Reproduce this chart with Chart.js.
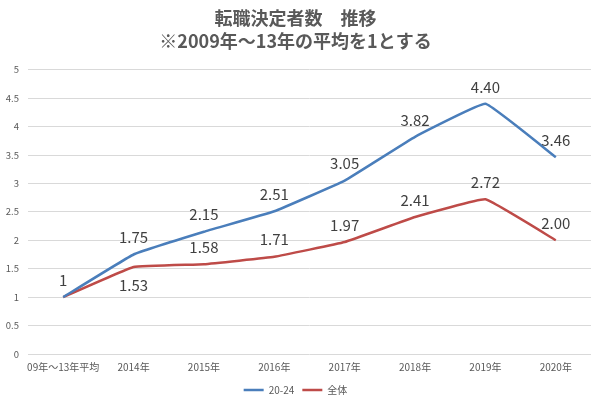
<!DOCTYPE html>
<html>
<head>
<meta charset="utf-8">
<script src="https://cdn.jsdelivr.net/npm/chart.js@4/dist/chart.umd.min.js"></script>
<style>
  html, body { margin: 0; padding: 0; background: #fff; }
  #wrap { width: 598px; height: 402px; }
</style>
</head>
<body>
<div id="wrap"><canvas id="grafico"></canvas></div>
<script>
// datos del grafico
const categorias = ['09年～13年平均', '2014年', '2015年', '2016年', '2017年', '2018年', '2019年', '2020年'];
const valores2024 = [1, 1.75, 2.15, 2.51, 3.05, 3.82, 4.40, 3.46];
const valoresTotal = [1, 1.53, 1.58, 1.71, 1.97, 2.41, 2.72, 2.00];
const ticksY = [0, 0.5, 1, 1.5, 2, 2.5, 3, 3.5, 4, 4.5, 5];

const fuente = '"Noto Sans CJK JP", "Noto Sans", sans-serif';

// donde va cada etiqueta (arriba, abajo o nada)
const posEtiquetas = [
    ['up', 'up', 'up', 'up', 'up', 'up', 'up', 'up'],
    [null, 'down', 'up', 'up', 'up', 'up', 'up', 'up']
];

//plugin sencillo para dibujar las etiquetas de datos
const etiquetasPlugin = {
    id: 'etiquetas',
    afterDatasetsDraw(chart) {
        const ctx = chart.ctx;
        ctx.save();
        ctx.font = '15px ' + fuente;
        ctx.fillStyle = '#404040';
        ctx.textAlign = 'center';
        ctx.textBaseline = 'middle';
        chart.data.datasets.forEach((ds, d) => {
            const meta = chart.getDatasetMeta(d);
            meta.data.forEach((pt, i) => {
                const pos = posEtiquetas[d][i];
                if (!pos) return;
                const v = ds.data[i];
                const txt = i === 0 ? String(v) : v.toFixed(2);
                const y = pos === 'up' ? pt.y - 17 : pt.y + 18;
                ctx.fillText(txt, pt.x, y);
            });
        });
        ctx.restore();
    }
};

new Chart(document.getElementById('grafico'), {
    type: 'line',
    data: {
        labels: categorias,
        datasets: [{
            label: '20-24',
            data: valores2024,
            borderColor: '#4A7EBB',
            backgroundColor: '#4A7EBB',
            borderWidth: 2.5,
            pointRadius: 0,
            tension: 0.08
        }, {
            label: '全体',
            data: valoresTotal,
            borderColor: '#BE4B48',
            backgroundColor: '#BE4B48',
            borderWidth: 2.5,
            pointRadius: 0,
            tension: 0.08
        }]
    },
    options: {
        responsive: true,
        maintainAspectRatio: false,
        animation: false,
        layout: { padding: { left: 0, right: 7, top: 0, bottom: -3 } },
        plugins: {
            title: {
                display: true,
                text: ['転職決定者数　推移', '※2009年～13年の平均を1とする'],
                color: '#595959',
                font: { family: fuente, size: 18, weight: 'bold', lineHeight: 1.27 },
                padding: { top: 7, bottom: 17 }
            },
            legend: {
                position: 'bottom',
                labels: {
                    color: '#595959',
                    font: { family: fuente, size: 10 },
                    usePointStyle: true,
                    pointStyle: 'line',
                    pointStyleWidth: 20,
                    boxWidth: 20,
                    boxHeight: 10,
                    padding: 8
                }
            },
            tooltip: { enabled: false }
        },
        scales: {
            x: {
                offset: true,
                grid: { display: false, drawTicks: false },
                border: { display: false },
                afterFit(scale) {
                    scale.height = 23;
                },
                ticks: {
                    color: '#595959',
                    font: { family: fuente, size: 10 },
                    padding: 7,
                    maxRotation: 0,
                    autoSkip: false
                }
            },
            y: {
                min: 0,
                max: 5,
                afterBuildTicks(scale) {
                    scale.ticks = ticksY.map(v => ({ value: v }));
                },
                afterFit(scale) {
                    scale.width = 28;
                },
                grid: { color: '#d9d9d9', lineWidth: 1, drawTicks: false },
                border: { display: false },
                ticks: {
                    color: '#595959',
                    font: { family: fuente, size: 9.5 },
                    padding: 9,
                    callback: v => String(v)
                }
            }
        }
    },
    plugins: [etiquetasPlugin]
});
</script>
</body>
</html>
